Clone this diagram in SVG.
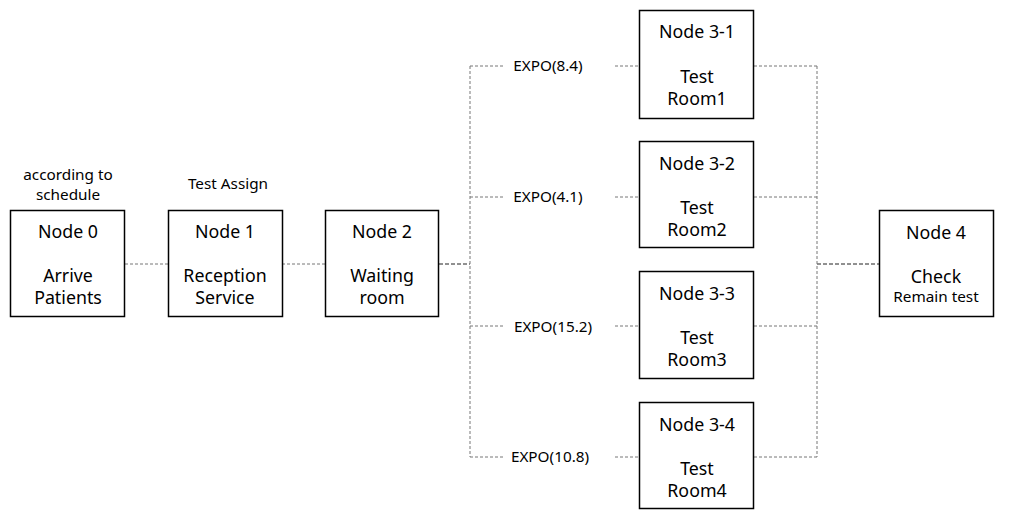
<svg xmlns="http://www.w3.org/2000/svg" width="1013" height="519" viewBox="0 0 1013 519">
<style>
.box{fill:#fff;stroke:#000;stroke-width:1.5}
text{font-family:"Noto Sans","Noto Sans CJK KR",sans-serif;fill:#000;text-anchor:middle}
.t{font-size:17.8px}
.s{font-size:15.3px}
.c{fill:none;stroke:#777;stroke-width:1;stroke-dasharray:3 2}
.d{fill:none;stroke:#222;stroke-width:1;stroke-dasharray:4 2}
</style>
<rect width="1013" height="519" fill="#fff"/>
<g id="connectors">
<path class="c" d="M125 264H168M282 264H325"/>
<path class="d" d="M439 264H470M817 264H879"/>
<path class="c" d="M470 66V457M817 66V457"/>
<path class="c" d="M470 66H504M615 66H640M754 66H817"/>
<path class="c" d="M470 197H504M615 197H640M754 197H817"/>
<path class="c" d="M470 326H504M615 326H640M754 326H817"/>
<path class="c" d="M470 457H504M615 457H640M754 457H817"/>
<text class="s" x="548" y="71">EXPO(8.4)</text>
<text class="s" x="548" y="202">EXPO(4.1)</text>
<text class="s" x="553" y="332">EXPO(15.2)</text>
<text class="s" x="550" y="462">EXPO(10.8)</text>
</g>
<g id="node0">
<text class="s" x="68" y="180">according to</text>
<text class="s" x="68" y="200">schedule</text>
<rect class="box" x="10.5" y="210.5" width="114" height="106"/>
<text class="t" x="68" y="238">Node 0</text>
<text class="t" x="68" y="282">Arrive</text>
<text class="t" x="68" y="304">Patients</text>
</g>
<g id="node1">
<text class="s" x="228" y="189">Test Assign</text>
<rect class="box" x="168.5" y="210.5" width="114" height="106"/>
<text class="t" x="225" y="238">Node 1</text>
<text class="t" x="225" y="282">Reception</text>
<text class="t" x="225" y="304">Service</text>
</g>
<g id="node2">
<rect class="box" x="325.5" y="210.5" width="113" height="106"/>
<text class="t" x="382" y="238">Node 2</text>
<text class="t" x="382" y="282">Waiting</text>
<text class="t" x="382" y="304">room</text>
</g>
<g id="node3-1">
<rect class="box" x="639.5" y="10.5" width="114" height="108"/>
<text class="t" x="697" y="38">Node 3-1</text>
<text class="t" x="697" y="83">Test</text>
<text class="t" x="697" y="105">Room1</text>
</g>
<g id="node3-2">
<rect class="box" x="639.5" y="141.5" width="114" height="106"/>
<text class="t" x="697" y="170">Node 3-2</text>
<text class="t" x="697" y="214">Test</text>
<text class="t" x="697" y="236">Room2</text>
</g>
<g id="node3-3">
<rect class="box" x="639.5" y="271.5" width="114" height="107"/>
<text class="t" x="697" y="300">Node 3-3</text>
<text class="t" x="697" y="344">Test</text>
<text class="t" x="697" y="366">Room3</text>
</g>
<g id="node3-4">
<rect class="box" x="639.5" y="402.5" width="114" height="106"/>
<text class="t" x="697" y="431">Node 3-4</text>
<text class="t" x="697" y="475">Test</text>
<text class="t" x="697" y="497">Room4</text>
</g>
<g id="node4">
<rect class="box" x="879.5" y="210.5" width="114" height="106"/>
<text class="t" x="936" y="239">Node 4</text>
<text class="t" x="936" y="283">Check</text>
<text class="s" x="936" y="302">Remain test</text>
</g>
</svg>
